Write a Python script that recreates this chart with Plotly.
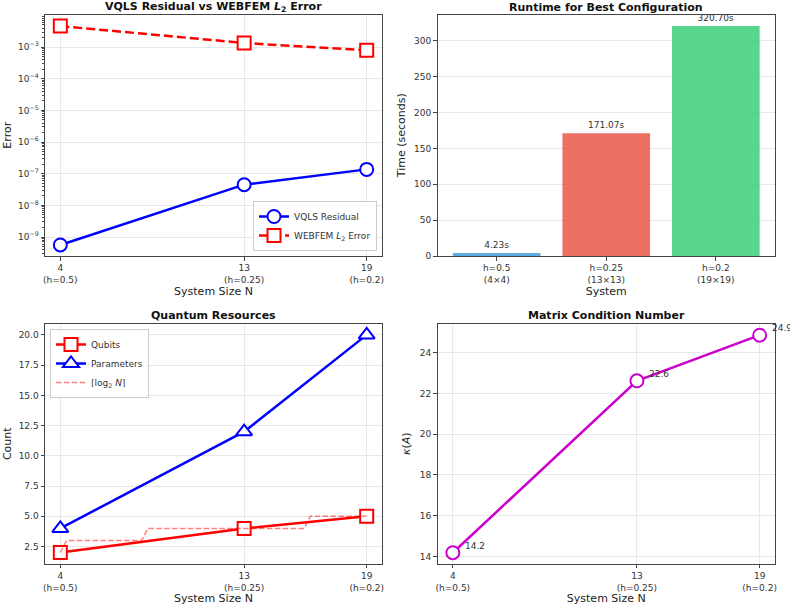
import plotly.graph_objects as go

# ---------------- data ----------------
N_vals = [4, 13, 19]
x_ticktext = ["4<br>(h=0.5)", "13<br>(h=0.25)", "19<br>(h=0.2)"]

vqls_residual = [5.6e-10, 4.5e-8, 1.37e-7]
webfem_l2 = [4.6e-3, 1.35e-3, 7.9e-4]

bar_cats = ["h=0.5<br>(4×4)", "h=0.25<br>(13×13)", "h=0.2<br>(19×19)"]
runtimes = [4.23, 171.07, 320.70]
bar_colors = ["rgba(52,152,219,0.8)", "rgba(231,76,60,0.8)", "rgba(46,204,113,0.8)"]

qubits = [2, 4, 5]
params = [4, 12, 20]
# ceil(log2 N) reference curve vertices
log_x = [4.0, 4.31, 7.98, 8.29, 15.94, 16.24, 19.0]
log_y = [2, 3, 3, 4, 4, 5, 5]

kappa = [14.18, 22.63, 24.87]
kappa_labels = ["14.2", "22.6", "24.9"]

log_major = [1e-9, 1e-8, 1e-7, 1e-6, 1e-5, 1e-4, 1e-3]
log_major_text = ["10<sup>−9</sup>", "10<sup>−8</sup>", "10<sup>−7</sup>", "10<sup>−6</sup>",
                  "10<sup>−5</sup>", "10<sup>−4</sup>", "10<sup>−3</sup>"]

# ---------------- layout geometry ----------------
W, H = 790, 607
def px_x(p): return p / W
def px_y(p): return 1 - p / H

dom_x_left = [px_x(45), px_x(382)]
dom_x_right = [px_x(437.5), px_x(775)]
dom_y_top = [px_y(256), px_y(14.5)]
dom_y_bot = [px_y(563.5), px_y(324)]

FONT = "DejaVu Sans"
AX_COL = "#444444"
GRID = "#e8e8e8"

minor_vals = [m * 10.0 ** e for e in range(-10, -2) for m in range(2, 10)]

fig = go.Figure()

# Panel 1
fig.add_trace(go.Scatter(
    x=N_vals, y=vqls_residual, mode="lines+markers", name="VQLS Residual",
    line=dict(color="#0000ff", width=2.5),
    marker=dict(symbol="circle", size=13, color="white", line=dict(color="#0000ff", width=2)),
    xaxis="x", yaxis="y", legend="legend"))
fig.add_trace(go.Scatter(
    x=N_vals, y=webfem_l2, mode="lines+markers", name="WEBFEM <i>L</i><sub>2</sub> Error",
    line=dict(color="#ff0000", width=2.5, dash="9px,4px"),
    marker=dict(symbol="square", size=13, color="white", line=dict(color="#ff0000", width=2)),
    xaxis="x", yaxis="y", legend="legend"))

# Panel 2
fig.add_trace(go.Bar(
    x=[0, 1, 2], y=runtimes, width=0.8, marker=dict(color=bar_colors, line=dict(width=0)),
    text=[f"{v:.2f}s" for v in runtimes], textposition="outside", cliponaxis=False,
    textfont=dict(size=9, color="#333333", family=FONT),
    showlegend=False, xaxis="x2", yaxis="y2"))

# Panel 3
fig.add_trace(go.Scatter(
    x=N_vals, y=qubits, mode="lines+markers", name="Qubits",
    line=dict(color="#ff0000", width=2.5),
    marker=dict(symbol="square", size=13, color="white", line=dict(color="#ff0000", width=2)),
    xaxis="x3", yaxis="y3", legend="legend2"))
fig.add_trace(go.Scatter(
    x=N_vals, y=params, mode="lines+markers", name="Parameters",
    line=dict(color="#0000ff", width=2.5),
    marker=dict(symbol="triangle-up", size=14, color="white", line=dict(color="#0000ff", width=2)),
    xaxis="x3", yaxis="y3", legend="legend2"))
fig.add_trace(go.Scatter(
    x=log_x, y=log_y, mode="lines", name="⌈log<sub>2</sub> <i>N</i>⌉",
    line=dict(color="rgba(255,0,0,0.5)", width=1.5, dash="5.5px,2.4px"),
    xaxis="x3", yaxis="y3", legend="legend2"))

# Panel 4
fig.add_trace(go.Scatter(
    x=N_vals, y=kappa, mode="lines+markers", name="kappa",
    line=dict(color="#cc00cc", width=2.5),
    marker=dict(symbol="circle", size=13, color="white", line=dict(color="#cc00cc", width=2)),
    showlegend=False, xaxis="x4", yaxis="y4"))

for xv, yv, lab in zip(N_vals, kappa, kappa_labels):
    fig.add_annotation(x=xv, y=yv, xref="x4", yref="y4", text=lab, showarrow=False,
                       xanchor="left", yanchor="middle", xshift=10, yshift=7,
                       font=dict(size=9, color="#333333", family=FONT))

common_axis = dict(showline=True, mirror=True, linecolor=AX_COL, linewidth=1,
                   ticks="outside", ticklen=3.5, tickcolor=AX_COL,
                   tickfont=dict(size=9, color="#333333", family=FONT),
                   gridcolor=GRID, gridwidth=1, zeroline=False, automargin=False,
                   title_font=dict(size=11, color="#222222", family=FONT))

def xline(domain, anchor, title="System Size N"):
    return dict(common_axis, domain=domain, anchor=anchor, range=[3.25, 19.75],
                tickvals=N_vals, ticktext=x_ticktext, showgrid=True,
                title=dict(text=title, standoff=2))

legend_common = dict(bgcolor="rgba(255,255,255,0.85)", bordercolor="#cccccc", borderwidth=1,
                     font=dict(size=9, color="#333333", family=FONT), itemwidth=30,
                     tracegroupgap=0)

fig.update_layout(
    width=W, height=H, margin=dict(l=0, r=0, t=0, b=0, autoexpand=False),
    paper_bgcolor="white", plot_bgcolor="white",
    font=dict(family=FONT, color="#222222"),
    xaxis=xline(dom_x_left, "y"),
    yaxis=dict(common_axis, domain=dom_y_top, anchor="x", type="log",
               range=[-9.6, -1.97], tickvals=log_major, ticktext=log_major_text, showgrid=True,
               minor=dict(ticks="outside", ticklen=2, tickcolor=AX_COL, showgrid=False,
                          tickmode="array", tickvals=minor_vals),
               title=dict(text="Error", standoff=4)),
    xaxis2=dict(common_axis, domain=dom_x_right, anchor="y2", range=[-0.54, 2.54],
                tickvals=[0, 1, 2], ticktext=bar_cats, showgrid=False,
                title=dict(text="System", standoff=2)),
    yaxis2=dict(common_axis, domain=dom_y_top, anchor="x2", range=[0, 336.7],
                dtick=50, showgrid=True, title=dict(text="Time (seconds)", standoff=6)),
    xaxis3=xline(dom_x_left, "y3"),
    yaxis3=dict(common_axis, domain=dom_y_bot, anchor="x3", range=[1.1, 20.9],
                tickvals=[2.5, 5, 7.5, 10, 12.5, 15, 17.5, 20],
                ticktext=["2.5", "5.0", "7.5", "10.0", "12.5", "15.0", "17.5", "20.0"],
                showgrid=True, title=dict(text="Count", standoff=4)),
    xaxis4=xline(dom_x_right, "y4"),
    yaxis4=dict(common_axis, domain=dom_y_bot, anchor="x4", range=[13.65, 25.42],
                dtick=2, showgrid=True, title=dict(text="<i>κ</i>(<i>A</i>)", standoff=6)),
    legend=dict(legend_common, x=px_x(377), y=px_y(251), xanchor="right", yanchor="bottom"),
    legend2=dict(legend_common, x=px_x(50), y=px_y(329), xanchor="left", yanchor="top"),
    showlegend=True,
)

titles = [
    ("VQLS Residual vs WEBFEM <i>L</i><sub>2</sub> Error", (45 + 382) / 2, 7),
    ("Runtime for Best Configuration", (437.5 + 775) / 2, 7),
    ("Quantum Resources", (45 + 382) / 2, 315),
    ("Matrix Condition Number", (437.5 + 775) / 2, 315),
]
for t, cx, cy in titles:
    fig.add_annotation(x=px_x(cx), y=px_y(cy), xref="paper", yref="paper", text=f"<b>{t}</b>",
                       showarrow=False, xanchor="center", yanchor="middle",
                       font=dict(size=11, color="#111111", family=FONT))

fig.write_html("out.html")
